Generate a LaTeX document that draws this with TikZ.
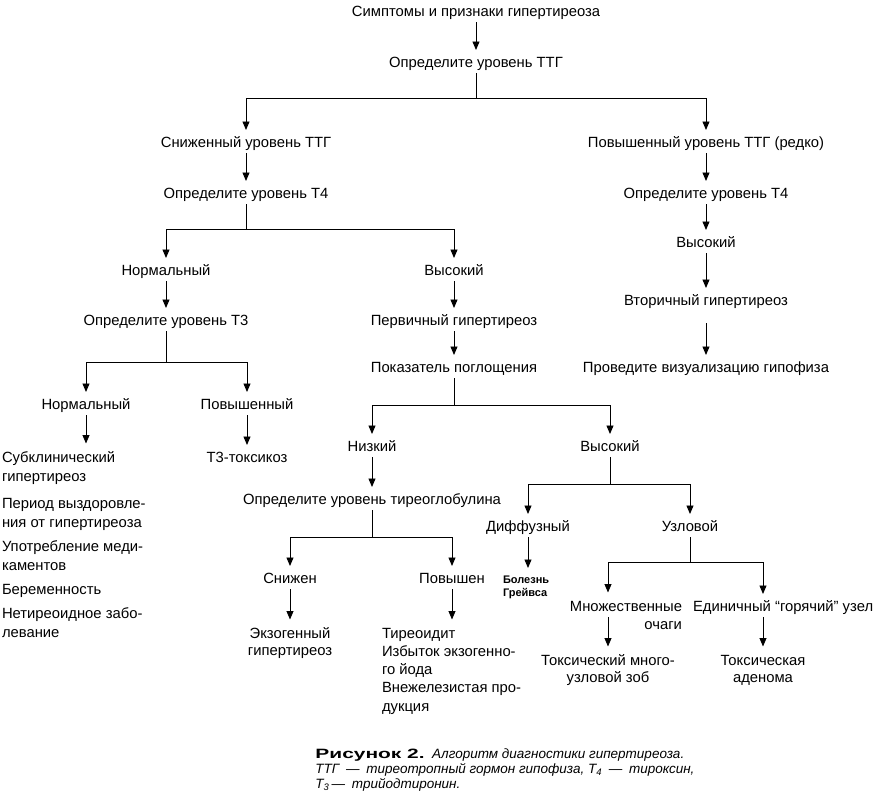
\documentclass[tikz,border=0pt]{standalone}
\usepackage{fontspec}
\setmainfont{Liberation Sans}
\usepackage{graphicx}
\usetikzlibrary{arrows.meta}
\newcommand{\firstln}{\rule{0pt}{11.5pt}}
\tikzset{
 lbl/.style={inner sep=0pt, outer sep=0pt, outer ysep=3pt, text height=10pt, text depth=3pt, font=\fontsize{14.8}{18}\selectfont, anchor=base},
 mlbl/.style={inner sep=0pt, outer sep=0pt, outer ysep=3pt},
 arr/.style={-{Triangle[length=8.5pt,width=7pt]}, shorten >=4pt}
}
\begin{document}
\begin{tikzpicture}[x=1pt,y=-1pt,line width=0.9pt]
\fill[white] (0,0) rectangle (880,806);
\useasboundingbox (0,0) rectangle (880,806);
% nodes
\node[lbl] (top) at (476,16) {Симптомы и признаки гипертиреоза};
\node[lbl] (ttg) at (476,67) {Определите уровень ТТГ};
\node[lbl] (snz) at (246,147) {Сниженный уровень ТТГ};
\node[lbl] (pov) at (706,147) {Повышенный уровень ТТГ (редко)};
\node[lbl] (t4l) at (246,198) {Определите уровень Т4};
\node[lbl] (t4r) at (706,198) {Определите уровень Т4};
\node[lbl] (vysr) at (706,247) {Высокий};
\node[lbl] (vtor) at (706,305) {Вторичный гипертиреоз};
\node[lbl] (viz) at (706,372) {Проведите визуализацию гипофиза};
\node[lbl] (norm1) at (166,275) {Нормальный};
\node[lbl] (vys1) at (454,275) {Высокий};
\node[lbl] (t3) at (166,325) {Определите уровень Т3};
\node[lbl] (perv) at (454,325) {Первичный гипертиреоз};
\node[lbl] (pok) at (454,372) {Показатель поглощения};
\node[lbl] (norm2) at (86,409) {Нормальный};
\node[lbl] (pov2) at (247,409) {Повышенный};
\node[lbl] (t3tox) at (247,462) {Т3-токсикоз};
\node[mlbl, anchor=north west, align=left, font=\fontsize{14.8}{19}\selectfont] (subkl) at (2,447.5)
 {\firstln Субклинический\\гипертиреоз\\[8pt]Период выздоровле-\\ния от гипертиреоза\\[5pt]Употребление меди-\\каментов\\[5pt]Беременность\\[5pt]Нетиреоидное забо-\\левание};
\node[lbl] (nizk) at (372,451) {Низкий};
\node[lbl] (vys2) at (610,451) {Высокий};
\node[lbl] (tg) at (372,504) {Определите уровень тиреоглобулина};
\node[lbl] (snzn) at (290,583) {Снижен};
\node[lbl] (povn) at (452,583) {Повышен};
\node[mlbl, anchor=north, align=center, font=\fontsize{14.8}{17}\selectfont] (ekzo) at (290,623.5)
 {\firstln Экзогенный\\гипертиреоз};
\node[mlbl, anchor=north west, align=left, font=\fontsize{14.8}{18.3}\selectfont] (tir) at (382,623.5)
 {\firstln Тиреоидит\\Избыток экзогенно-\\го йода\\Внежелезистая про-\\дукция};
\node[lbl] (diff) at (528,531) {Диффузный};
\node[lbl] (uzl) at (690,531) {Узловой};
\node[mlbl, anchor=north west, align=left, font=\fontsize{11}{12.5}\selectfont\bfseries] (bol) at (503,572)
 {\rule{0pt}{8.5pt}Болезнь\\Грейвса};
\node[mlbl, anchor=north east, align=right, font=\fontsize{14.8}{18}\selectfont] (mno) at (682,596.5)
 {\firstln Множественные\\очаги};
\node[lbl, anchor=base west] (edin) at (693,611) {Единичный “горячий” узел};
\node[mlbl, anchor=north, align=center, font=\fontsize{14.8}{17}\selectfont] (toksm) at (608,650.5)
 {\firstln Токсический много-\\узловой зоб};
\node[mlbl, anchor=north, align=center, font=\fontsize{14.8}{17}\selectfont] (toksa) at (763,650.5)
 {\firstln Токсическая\\аденома};
\node[inner sep=0pt, anchor=north west, align=left, font=\fontsize{13.5}{15}\selectfont\itshape] (cap) at (315,748)
 {\rule{0pt}{10pt}{\upshape\bfseries\scalebox{1.55}[1]{Рисунок 2.}}\ \ Алгоритм диагностики гипертиреоза.\\ТТГ\enspace—\enspace тиреотропный гормон гипофиза, Т\textsubscript{4}\enspace—\enspace тироксин,\\Т\textsubscript{3}\,—\enspace трийодтиронин.};
% connectors
\coordinate (b1) at (476,98);
\coordinate (b2) at (246,229);
\coordinate (b3) at (166,362);
\coordinate (b4) at (454,405);
\coordinate (b5) at (372,537);
\coordinate (b6) at (610,484);
\coordinate (b7) at (690,562);
\draw[arr] (top) -- (ttg);
\draw (ttg) -- (b1);
\draw[arr] (b1) -| (snz);
\draw[arr] (b1) -| (pov);
\draw[arr] (snz) -- (t4l);
\draw[arr] (pov) -- (t4r);
\draw[arr] (t4r) -- (vysr);
\draw[arr] (vysr) -- (vtor);
\draw[arr, shorten <=12pt] (vtor) -- (viz);
\draw (t4l) -- (b2);
\draw[arr] (b2) -| (norm1);
\draw[arr] (b2) -| (vys1);
\draw[arr] (norm1) -- (t3);
\draw[arr] (vys1) -- (perv);
\draw[arr] (perv) -- (pok);
\draw (t3) -- (b3);
\draw[arr] (b3) -| (norm2);
\draw[arr] (b3) -| (pov2);
\draw[arr] (norm2) -- (norm2 |- subkl.north);
\draw[arr] (pov2) -- (t3tox);
\draw (pok) -- (b4);
\draw[arr] (b4) -| (nizk);
\draw[arr] (b4) -| (vys2);
\draw[arr] (nizk) -- (tg);
\draw (tg) -- (b5);
\draw[arr] (b5) -| (snzn);
\draw[arr] (b5) -| (povn);
\draw[arr] (snzn) -- (ekzo);
\draw[arr] (povn) -- (povn |- tir.north);
\draw (vys2) -- (b6);
\draw[arr] (b6) -| (diff);
\draw[arr] (b6) -| (uzl);
\draw[arr] (diff) -- (diff |- bol.north);
\draw (uzl) -- (b7);
\draw[arr] (b7) -| (toksm.north |- mno.north);
\draw[arr] (b7) -| (toksa.north |- edin.north);
\draw[arr] (toksm.north |- edin.south) -- (toksm);
\draw[arr] (edin.south -| toksa.north) -- (toksa);
\end{tikzpicture}
\end{document}
